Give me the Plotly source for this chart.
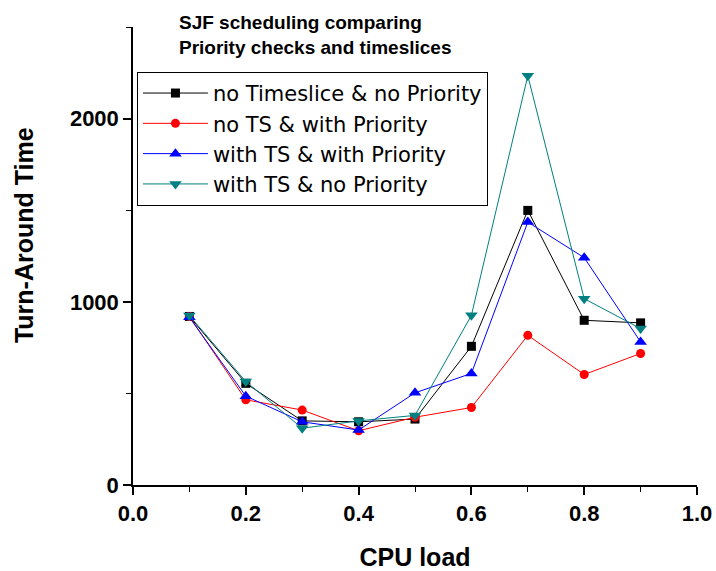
import plotly.graph_objects as go

cpu_load = [0.1, 0.2, 0.3, 0.4, 0.5, 0.6, 0.7, 0.8, 0.9]
no_ts_no_pri = [920, 555, 350, 345, 360, 757, 1499, 899, 885]
no_ts_with_pri = [920, 465, 409, 296, 370, 423, 817, 603, 718]
ts_with_pri = [915, 485, 345, 300, 503, 609, 1435, 1241, 781]
ts_no_pri = [925, 565, 310, 350, 380, 926, 2234, 1017, 854]

x_ticks = [0.0, 0.2, 0.4, 0.6, 0.8, 1.0]
x_ticklabels = ["0.0", "0.2", "0.4", "0.6", "0.8", "1.0"]
x_minor = [0.1, 0.3, 0.5, 0.7, 0.9]
y_ticks = [0, 1000, 2000]
y_minor = [500, 1500, 2500]

names = ["no Timeslice & no Priority", "no TS & with Priority",
         "with TS & with Priority", "with TS & no Priority"]
series = [no_ts_no_pri, no_ts_with_pri, ts_with_pri, ts_no_pri]
colors = ["#000000", "#ff0000", "#0000ff", "#008080"]
symbols = ["square", "circle", "triangle-up", "triangle-down"]
sizes = [9, 9, 11, 11]

fig = go.Figure()
for n, s, c, sym, sz in zip(names, series, colors, symbols, sizes):
    fig.add_trace(go.Scatter(
        x=cpu_load, y=s, name=n, mode="lines+markers",
        line=dict(color=c, width=1),
        marker=dict(symbol=sym, size=sz, color=c, line=dict(width=0)),
    ))

tickfont = dict(family="Liberation Sans, Arial", size=22, color="black", weight="bold")
titlefont = dict(family="Liberation Sans, Arial", size=25, color="black", weight="bold")
fig.update_layout(
    width=716, height=571,
    margin=dict(l=133, r=19, t=27, b=86),
    plot_bgcolor="white", paper_bgcolor="white",
    font=dict(family="Liberation Sans, Arial", color="black"),
    showlegend=True,
    legend=dict(x=0.007, y=0.902, xanchor="left", yanchor="top",
                bordercolor="black", borderwidth=1, bgcolor="white",
                font=dict(family="DejaVu Sans", size=21, color="black"),
                itemwidth=65, tracegroupgap=0),
    xaxis=dict(range=[0, 1], tickvals=x_ticks, ticktext=x_ticklabels, automargin=False,
               showgrid=False, zeroline=False, showline=True, linecolor="black", linewidth=1.5,
               ticks="outside", ticklen=8, tickwidth=1.5, tickcolor="black",
               minor=dict(tickvals=x_minor, ticks="outside", ticklen=5, tickwidth=1.2, tickcolor="black"),
               tickfont=tickfont,
               title=dict(text="CPU load", font=titlefont, standoff=25)),
    yaxis=dict(range=[0, 2500], tickvals=y_ticks, automargin=False,
               showgrid=False, zeroline=False, showline=True, linecolor="black", linewidth=1.5,
               ticks="outside", ticklen=8, tickwidth=1.5, tickcolor="black",
               minor=dict(tickvals=y_minor, ticks="outside", ticklen=5, tickwidth=1.2, tickcolor="black"),
               tickfont=tickfont),
    annotations=[
        dict(text="SJF scheduling comparing<br>Priority checks and timeslices",
             xref="paper", yref="paper", x=0.078, y=1.038, xanchor="left", yanchor="top",
             align="left", showarrow=False,
             font=dict(family="Liberation Sans, Arial", size=19, color="black", weight="bold")),
        dict(text="Turn-Around Time", xref="paper", yref="paper", x=-0.193, y=0.546,
             xanchor="center", yanchor="middle", textangle=-90, showarrow=False,
             font=titlefont),
    ],
)
fig.write_html("out.html")
